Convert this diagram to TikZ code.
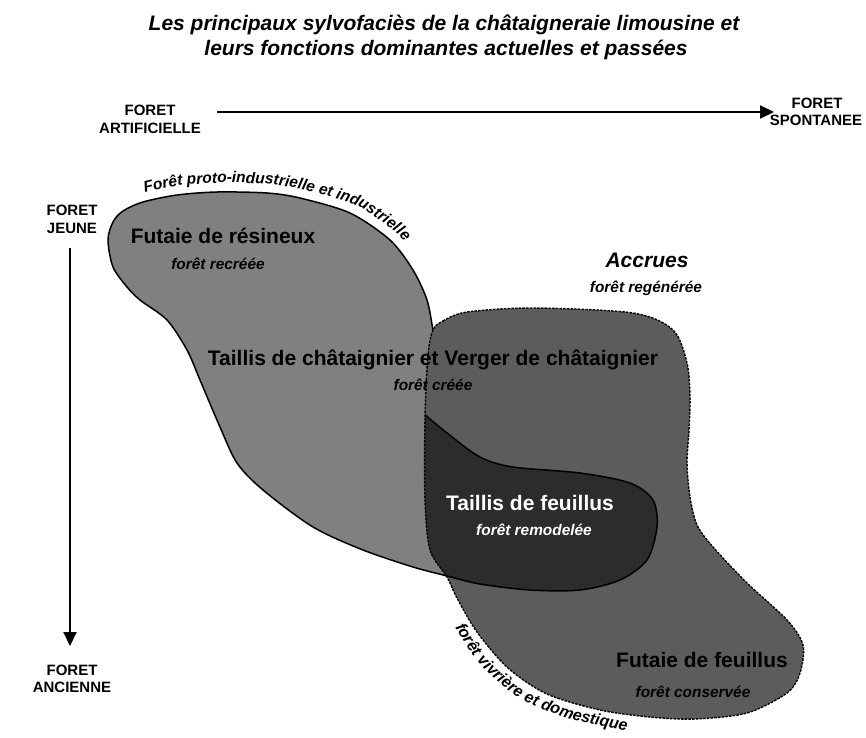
\documentclass[tikz,border=0pt]{standalone}
\usepackage{fontspec}
\setmainfont{Liberation Sans}
\usetikzlibrary{arrows.meta,decorations.text}
\definecolor{cA}{RGB}{128,128,128}
\definecolor{cB}{RGB}{92,92,92}
\definecolor{cC}{RGB}{44,44,44}
\begin{document}
\begin{tikzpicture}[x=1pt,y=-1pt,
  ttl/.style={font=\bfseries\itshape\fontsize{21}{24}\selectfont, anchor=base, inner sep=0pt},
  axislbl/.style={font=\bfseries\fontsize{15}{18}\selectfont, anchor=base, inner sep=0pt},
  zonelbl/.style={font=\bfseries\fontsize{21}{24}\selectfont, anchor=base, inner sep=0pt},
  sublbl/.style={font=\bfseries\itshape\fontsize{15.4}{18}\selectfont, anchor=base, inner sep=0pt},
  axisarrow/.style={line width=2pt, -{Triangle[length=14pt,width=13pt]}},
  outline/.style={line width=1.5pt},
  dashedline/.style={line width=1.4pt, dash pattern=on 2.5pt off 1.2pt},
]
\useasboundingbox (0,0) rectangle (866,737);
\fill[white] (0,0) rectangle (866,737);

% title
\node[ttl] (title1) at (444,30) {Les principaux sylvofaciès de la châtaigneraie limousine et};
\node[ttl] (title2) at (446,55) {leurs fonctions dominantes actuelles et passées};

% axes labels
\node[axislbl] (artif1) at (150,115.5) {FORET};
\node[axislbl] (artif2) at (150,133.5) {ARTIFICIELLE};
\node[axislbl] (spont1) at (817,108.5) {FORET};
\node[axislbl] (spont2) at (816,125.5) {SPONTANEE};
\node[axislbl] (jeune1) at (72,215.5) {FORET};
\node[axislbl] (jeune2) at (72,233.5) {JEUNE};
\node[axislbl] (anc1) at (72,675.5) {FORET};
\node[axislbl] (anc2) at (72,692.5) {ANCIENNE};

\coordinate (hstart) at (217,112);
\coordinate (hend) at (774,112);
\draw[axisarrow] (hstart) -- (hend);
\coordinate (vstart) at (70,248);
\coordinate (vend) at (70,646);
\draw[axisarrow] (vstart) -- (vend);

% shape A : futaie de resineux / taillis de chataignier
\filldraw[fill=cA, outline] plot[smooth] coordinates {(470,583) (447,576) (413,567) (363,550) (313,527) (263,490) (237,463) (220,427) (200,380) (187,350) (167,320) (140,300) (127,287) (113,267) (108,240) (113,222) (123,211) (143,202) (177,195) (217,192) (267,193) (300,198) (350,213) (390,240) (413,270) (427,300) (433,330) (438,355)} -- (520,355) -- (520,583) -- cycle;

% shape B : accrues (dashed)
\fill[cB] plot[smooth cycle] coordinates {(433,330) (443,321) (467,312) (533,308) (633,313) (673,330) (687,363) (690,397) (689,430) (687,463) (690,497) (697,525) (713,547) (747,583) (787,620) (803,645) (800,673) (787,693) (747,713) (695,719) (650,717) (600,710) (547,694) (508,668) (477,632) (457,598) (447,577) (430,550) (425,500) (425,417) (428,355)};

% shape C : taillis de feuillus
\begin{scope}
\clip plot[smooth cycle] coordinates {(433,330) (443,321) (467,312) (533,308) (633,313) (673,330) (687,363) (690,397) (689,430) (687,463) (690,497) (697,525) (713,547) (747,583) (787,620) (803,645) (800,673) (787,693) (747,713) (695,719) (650,717) (600,710) (547,694) (508,668) (477,632) (457,598) (447,577) (430,550) (425,500) (425,417) (428,355)};
\fill[cC] plot[smooth] coordinates {(405,398) (423,413) (447,433) (480,457) (513,467) (580,473) (630,483) (653,500) (657,527) (647,560) (620,580) (580,590) (530,590) (480,584) (447,576) (413,567)} -- cycle;
\draw[outline] plot[smooth] coordinates {(405,398) (423,413) (447,433) (480,457) (513,467) (580,473) (630,483) (653,500) (657,527) (647,560) (620,580) (580,590) (530,590) (480,584) (447,576) (413,567)};
\end{scope}

\draw[dashedline] plot[smooth cycle] coordinates {(433,330) (443,321) (467,312) (533,308) (633,313) (673,330) (687,363) (690,397) (689,430) (687,463) (690,497) (697,525) (713,547) (747,583) (787,620) (803,645) (800,673) (787,693) (747,713) (695,719) (650,717) (600,710) (547,694) (508,668) (477,632) (457,598) (447,577) (430,550) (425,500) (425,417) (428,355)};

% zone labels
\node[zonelbl] (resineux) at (223,243) {Futaie de résineux};
\node[sublbl] (recreee) at (218,269) {forêt recréée};
\node[zonelbl, font=\bfseries\itshape\fontsize{21}{24}\selectfont] (accrues) at (647,267) {Accrues};
\node[sublbl] (regeneree) at (646,292) {forêt regénérée};
\node[zonelbl] (chataignier) at (433,365) {Taillis de châtaignier et Verger de châtaignier};
\node[sublbl] (creee) at (433,390) {forêt créée};
\node[zonelbl, text=white] (tfeuillus) at (530,510) {Taillis de feuillus};
\node[sublbl, text=white] (remodelee) at (534,535) {forêt remodelée};
\node[zonelbl] (ffeuillus) at (702,667) {Futaie de feuillus};
\node[sublbl] (conservee) at (693,697) {forêt conservée};

% curved labels
\path[decorate, decoration={text along path, text align=left,
  text={|\bfseries\itshape\fontsize{15.5}{17}\selectfont|Forêt proto-industrielle et industrielle}}]
  plot[smooth] coordinates {(145,193) (177,186) (217,183) (267,184) (305,190) (355,205) (395,232) (412,252) (420,270)};
\path[decorate, decoration={text along path, text align=left,
  text={|\bfseries\itshape\fontsize{16}{17}\selectfont|forêt vivrière et domestique}}]
  plot[smooth] coordinates {(455,627) (478,662) (516,696) (567,718) (622,730) (669,735) (710,737)};
\end{tikzpicture}
\end{document}
